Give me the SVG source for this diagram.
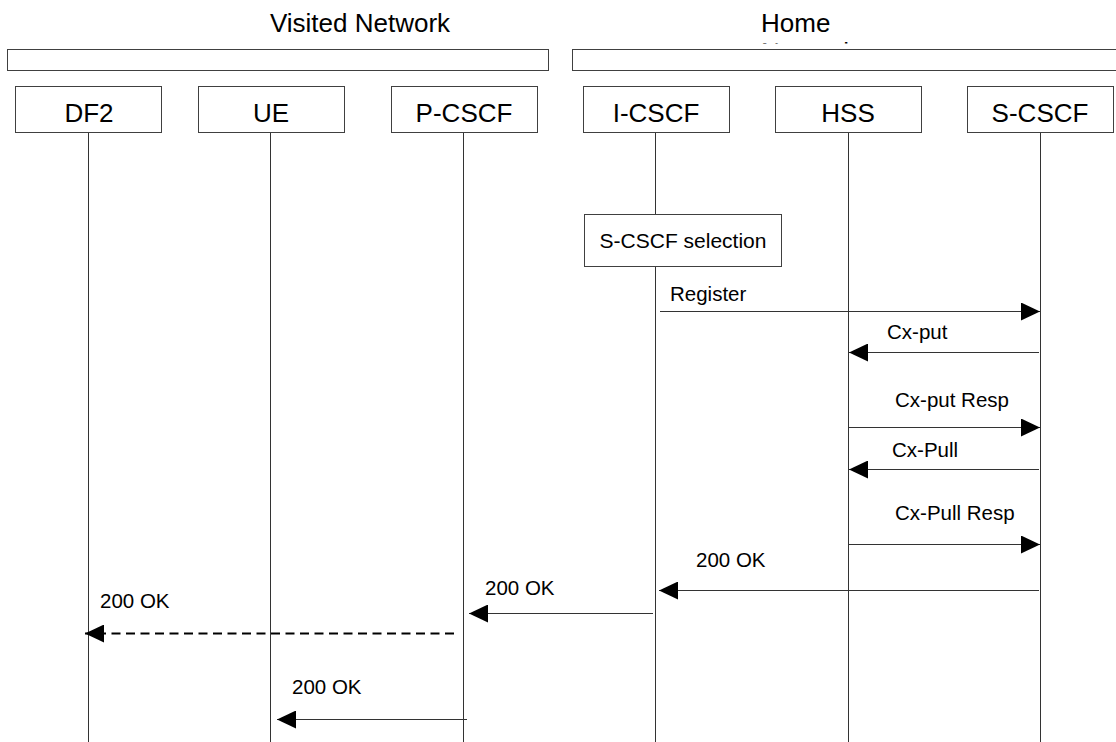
<svg xmlns="http://www.w3.org/2000/svg" width="1116" height="742" viewBox="0 0 1116 742">
<defs>
<style>
.t{font-family:"Liberation Sans",Arial,sans-serif;fill:#000}
.title{font-size:26px}
.lbl{font-size:26px}
.msg{font-size:20.5px}
.box{fill:#fff;stroke:#404040;stroke-width:1}
.life{stroke:#333;stroke-width:1;fill:none}
.arr{stroke:#333;stroke-width:1;fill:none}
.dash{stroke:#000;stroke-width:2;stroke-dasharray:9,5.5;fill:none}
</style>
<marker id="ah" viewBox="0 0 19 18" refX="19" refY="9" markerWidth="19" markerHeight="18" markerUnits="userSpaceOnUse" orient="auto">
<path d="M0,0 L19,9 L0,18 Z" fill="#000"/>
</marker>
<clipPath id="homeclip"><rect x="740" y="0" width="200" height="43.5"/></clipPath>
</defs>
<rect width="1116" height="742" fill="#fff"/>
<g id="visited-network">
<text class="t title" x="360" y="32" text-anchor="middle">Visited Network</text>
<rect class="box" x="7.5" y="49.5" width="541" height="21"/>
</g>
<g id="home-network">
<text class="t title" x="761" y="32">Home</text>
<text class="t title" x="761" y="61" clip-path="url(#homeclip)">Network</text>
<rect class="box" x="572.5" y="49.5" width="560" height="21"/>
</g>
<g id="lifelines">
<line class="life" x1="88.5" y1="133" x2="88.5" y2="742"/>
<line class="life" x1="270.5" y1="133" x2="270.5" y2="742"/>
<line class="life" x1="463.5" y1="133" x2="463.5" y2="742"/>
<line class="life" x1="655.5" y1="133" x2="655.5" y2="742"/>
<line class="life" x1="848.5" y1="133" x2="848.5" y2="742"/>
<line class="life" x1="1040.5" y1="133" x2="1040.5" y2="742"/>
</g>
<g id="DF2"><rect class="box" x="15.5" y="86.5" width="146" height="46"/><text class="t lbl" x="89" y="122" text-anchor="middle">DF2</text></g>
<g id="UE"><rect class="box" x="198.5" y="86.5" width="146" height="46"/><text class="t lbl" x="271" y="122" text-anchor="middle">UE</text></g>
<g id="P-CSCF"><rect class="box" x="391.5" y="86.5" width="146" height="46"/><text class="t lbl" x="464" y="122" text-anchor="middle">P-CSCF</text></g>
<g id="I-CSCF"><rect class="box" x="583.5" y="86.5" width="146" height="46"/><text class="t lbl" x="656" y="122" text-anchor="middle">I-CSCF</text></g>
<g id="HSS"><rect class="box" x="775.5" y="86.5" width="146" height="46"/><text class="t lbl" x="848" y="122" text-anchor="middle">HSS</text></g>
<g id="S-CSCF"><rect class="box" x="967.5" y="86.5" width="146" height="46"/><text class="t lbl" x="1040" y="122" text-anchor="middle">S-CSCF</text></g>
<g id="S-CSCF-selection"><rect class="box" x="584.5" y="214.5" width="197" height="52"/><text class="t msg" x="683" y="248" text-anchor="middle" style="font-size:21px">S-CSCF selection</text></g>
<g id="connectors">
<line class="arr" x1="660" y1="311.5" x2="1040" y2="311.5" marker-end="url(#ah)"/>
<text class="t msg" x="670" y="301">Register</text>
<line class="arr" x1="1039" y1="352.5" x2="849" y2="352.5" marker-end="url(#ah)"/>
<text class="t msg" x="887" y="339">Cx-put</text>
<line class="arr" x1="849" y1="427.5" x2="1040" y2="427.5" marker-end="url(#ah)"/>
<text class="t msg" x="895" y="407">Cx-put Resp</text>
<line class="arr" x1="1039" y1="469.5" x2="849" y2="469.5" marker-end="url(#ah)"/>
<text class="t msg" x="892" y="457">Cx-Pull</text>
<line class="arr" x1="849" y1="544.5" x2="1040" y2="544.5" marker-end="url(#ah)"/>
<text class="t msg" x="895" y="520">Cx-Pull Resp</text>
<line class="arr" x1="1039" y1="590.5" x2="659" y2="590.5" marker-end="url(#ah)"/>
<text class="t msg" x="696" y="567">200 OK</text>
<line class="arr" x1="653" y1="613.5" x2="469" y2="613.5" marker-end="url(#ah)"/>
<text class="t msg" x="485" y="595">200 OK</text>
<line class="dash" x1="454" y1="633.5" x2="85" y2="633.5" marker-end="url(#ah)"/>
<text class="t msg" x="100" y="608">200 OK</text>
<line class="arr" x1="467" y1="719.5" x2="277" y2="719.5" marker-end="url(#ah)"/>
<text class="t msg" x="292" y="694">200 OK</text>
</g>
</svg>
